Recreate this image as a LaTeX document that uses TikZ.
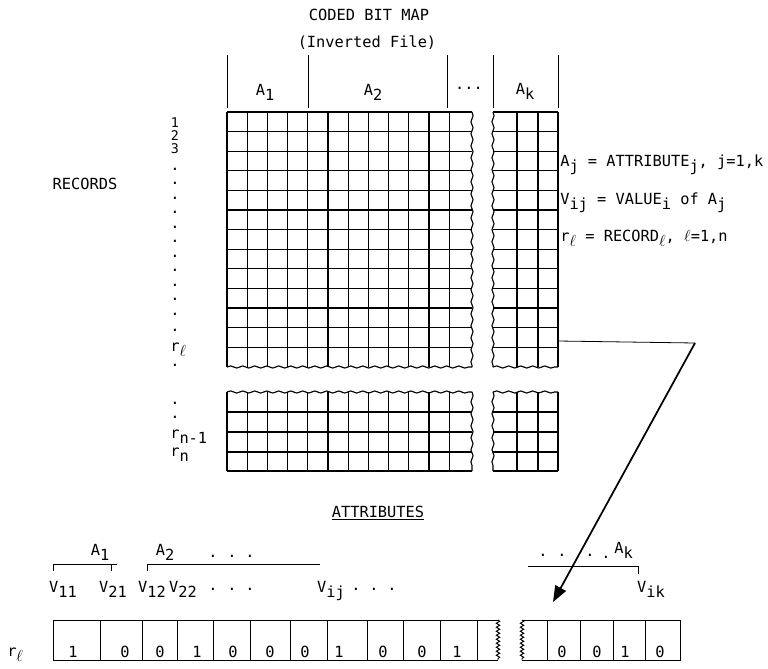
\documentclass[tikz,border=0pt]{standalone}
\usepackage{fontspec}
\setmonofont{DejaVu Sans Mono}
\usepackage{tikz}
\usetikzlibrary{arrows.meta,decorations.pathmorphing}

\newcommand{\lo}[1]{\raisebox{-0.7ex}{#1}}

\tikzset{
  tt/.style={font=\ttfamily\fontsize{11.5}{13}\selectfont, inner sep=0pt, anchor=base},
  small/.style={font=\ttfamily\fontsize{10}{12}\selectfont, inner sep=0pt, anchor=base},
  gridline/.style={line width=0.85pt},
  torn/.style={decorate, decoration={snake, segment length=9pt, amplitude=0.8pt}},
  zig/.style={decorate, decoration={snake, segment length=3pt, amplitude=1.3pt}},
}

\begin{document}
\begin{tikzpicture}[x=0.75pt,y=-0.75pt]
  \useasboundingbox (0,0) rectangle (768,668);
  \def\gl{227}
  \def\cw{20.2}
  \def\gt{112}
  \def\rh{19.6}
  % titles
  \node[tt] (title) at (369,20) {CODED BIT MAP};
  \node[tt] (subtitle) at (367,47) {(Inverted File)};
  % column heads
  \foreach \x in {227,308,447,493,558}
    \draw[line width=0.5pt] (\x,55) -- (\x,108);
  \node[tt] (hA1) at (265,95) {A\lo{1}};
  \node[tt] (hA2) at (373,95) {A\lo{2}};
  \node[tt] (hdots) at (469,89) {...};
  \node[tt] (hAk) at (525,94) {A\lo{k}};
  % upper block
  \foreach \i in {0,...,11}
    \draw[gridline] (\gl+\i*\cw,\gt) -- (\gl+\i*\cw,367);
  \foreach \j in {0,...,12} {
    \draw[gridline] (\gl,\gt+\j*\rh) -- (472,\gt+\j*\rh);
    \draw[gridline] (493,\gt+\j*\rh) -- (558,\gt+\j*\rh);
  }
  \foreach \x in {517,538,558}
    \draw[gridline] (\x,\gt) -- (\x,367);
  \draw[gridline,torn] (472,\gt) -- (472,367);
  \draw[gridline,torn] (\gl,367) -- (472,367);
  \draw[gridline,torn] (493,\gt) -- (493,367);
  \draw[gridline,torn] (493,367) -- (558,367);
  % lower block
  \foreach \i in {0,...,11}
    \draw[gridline] (\gl+\i*\cw,392) -- (\gl+\i*\cw,471);
  \foreach \x in {517,538,558}
    \draw[gridline] (\x,392) -- (\x,471);
  \foreach \y in {412,432,452,471} {
    \draw[gridline] (\gl,\y) -- (472,\y);
    \draw[gridline] (493,\y) -- (558,\y);
  }
  \draw[gridline,torn] (\gl,392) -- (472,392);
  \draw[gridline,torn] (472,392) -- (472,471);
  \draw[gridline,torn] (493,392) -- (558,392);
  \draw[gridline,torn] (493,392) -- (493,471);
  % record labels
  \node[tt] (records) at (85,189) {RECORDS};
  \node[small] (row1) at (175,127) {1};
  \node[small] (row2) at (175,140) {2};
  \node[small] (row3) at (175,153) {3};
  \foreach \y [count=\n] in {170,184,199,213,228,242,257,271,286,300,315,331,366,404,418}
    \node[tt] (rdot\n) at (175,\y) {.};
  \node[tt,anchor=base west] (rowl) at (170,351) {r\lo{$\ell$}};
  \node[tt,anchor=base west] (rowm) at (170,438) {r\lo{n-1}};
  \node[tt,anchor=base west] (rown) at (170,456) {r\lo{n}};
  % legend
  \node[tt,anchor=base west] (defA) at (560,166) {A\lo{j} = ATTRIBUTE\lo{j}, j=1,k};
  \node[tt,anchor=base west] (defV) at (560,204) {V\lo{ij} = VALUE\lo{i} of A\lo{j}};
  \node[tt,anchor=base west] (defr) at (560,241) {r\lo{$\ell$} = RECORD\lo{$\ell$}, $\ell$=1,n};
  % attributes of one record
  \node[tt] (attr) at (378,517) {\underline{ATTRIBUTES}};
  \node[tt] (bA1) at (100,555) {A\lo{1}};
  \node[tt] (bA2) at (165,555) {A\lo{2}};
  \node[tt,anchor=base west] (bAk) at (614,553) {A\lo{k}};
  \draw[line width=0.7pt] (53,571) -- (53,564) -- (117,564);
  \draw[line width=0.7pt] (111,564) -- (111,571);
  \draw[line width=0.7pt] (147,571) -- (147,564) -- (320,564);
  \draw[line width=0.7pt] (528,566) -- (638,566) -- (638,574);
  \foreach \x/\y [count=\n] in {213/557,232/557,250/557,543/556,562/556,590/556,606/558,213/590,232/590,250/590,356/590,374/590,392/590}
    \node[tt] (adot\n) at (\x,\y) {.};
  \node[tt] (v11) at (63,592) {V\lo{11}};
  \node[tt] (v21) at (113,592) {V\lo{21}};
  \node[tt] (v12) at (152,592) {V\lo{12}};
  \node[tt] (v22) at (183,592) {V\lo{22}};
  \node[tt] (vij) at (331,592) {V\lo{ij}};
  \node[tt] (vik) at (651,592) {V\lo{ik}};
  \node[tt,anchor=base west] (recl) at (7,656) {r\lo{$\ell$}};
  % bit row
  \draw[line width=0.7pt] (498,620) -- (53,620) -- (53,660) -- (498,660);
  \draw[line width=0.7pt,zig] (498,620) -- (498,660);
  \foreach \x in {100,142,177,213,250,290,327,367,403,440,477}
    \draw[line width=0.7pt] (\x,620) -- (\x,660);
  \draw[line width=0.7pt] (522,620) -- (680,620) -- (680,660) -- (522,660);
  \draw[line width=0.7pt,zig] (522,620) -- (522,660);
  \foreach \x in {547,580,613,645}
    \draw[line width=0.7pt] (\x,620) -- (\x,660);
  \foreach \x/\b [count=\n] in {73/1,125/0,160/0,197/1,233/0,270/0,305/0,339/1,383/0,422/0,457/1,562/0,597/0,625/1,660/0}
    \node[tt] (bit\n) at (\x,657) {\b};
  % pointer from record to bit row
  \coordinate (from) at (558,341);
  \coordinate (bend) at (695,343);
  \coordinate (tip) at (553,602);
  \draw[line width=0.6pt] (from) -- (bend);
  \draw[line width=1.3pt,-{Triangle[length=12pt,width=9pt]}] (bend) -- (tip);
\end{tikzpicture}
\end{document}
